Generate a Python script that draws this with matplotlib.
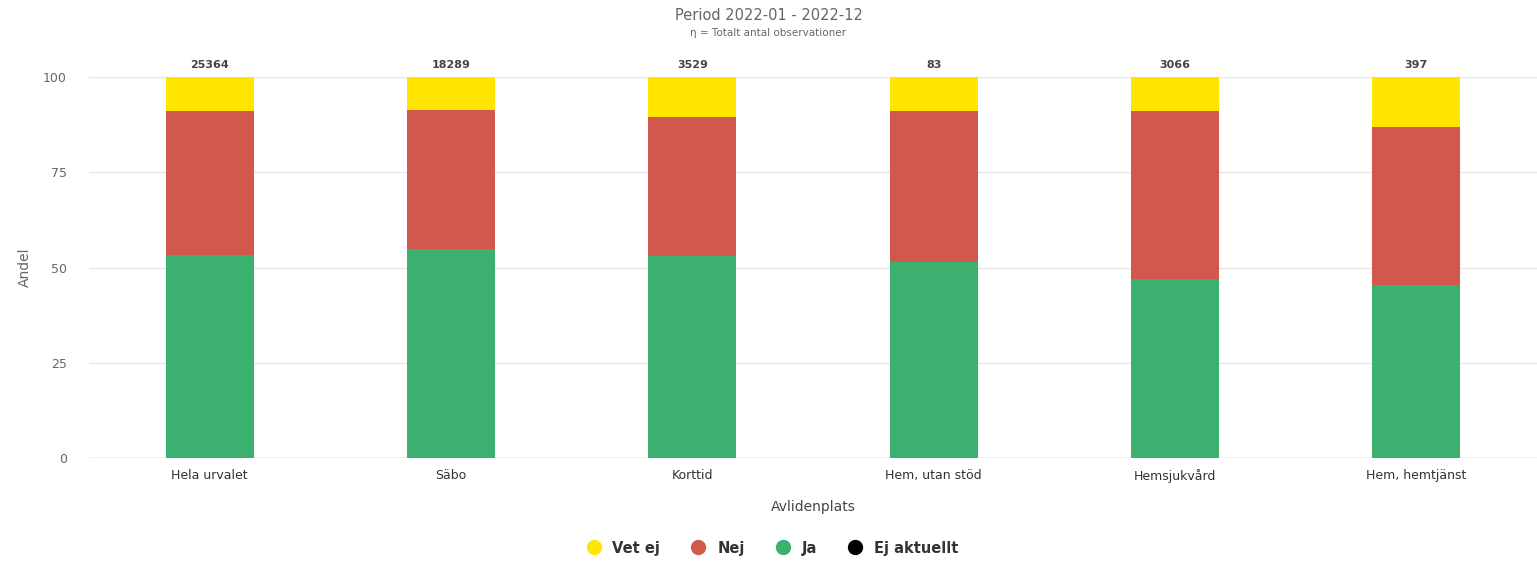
import numpy as np
import matplotlib
matplotlib.use("Agg")
import matplotlib.pyplot as plt
from matplotlib.lines import Line2D

# data (percent per place of death)
categories = ["Hela urvalet", "Säbo", "Korttid", "Hem, utan stöd", "Hemsjukvård", "Hem, hemtjänst"]
totals = [25364, 18289, 3529, 83, 3066, 397]
ja = [53.3, 54.9, 53.0, 51.4, 47.0, 45.4]
nej = [37.8, 36.4, 36.5, 39.7, 44.1, 41.6]
vet_ej = [8.9, 8.7, 10.5, 8.9, 8.9, 13.0]
ej_aktuellt = [0, 0, 0, 0, 0, 0]

c_yellow = "#ffe500"
c_red = "#d2584d"
c_green = "#3bb06f"
c_black = "#000000"
grey = "#666666"

fig = plt.figure(figsize=(15.37, 5.61), dpi=100)
ax = fig.add_axes([0.058, 0.1836, 0.942, 0.6791])

x = np.arange(len(categories))
w = 0.365
ja_a = np.array(ja)
nej_a = np.array(nej)
vet_a = np.array(vet_ej)

ax.bar(x, ja_a, w, color=c_green, zorder=3)
ax.bar(x, nej_a, w, bottom=ja_a, color=c_red, zorder=3)
ax.bar(x, vet_a, w, bottom=ja_a + nej_a, color=c_yellow, zorder=3)
ax.bar(x, ej_aktuellt, w, bottom=ja_a + nej_a + vet_a, color=c_black, zorder=3)

for xi, n in zip(x, totals):
    ax.text(xi, 101.8, str(n), ha="center", va="bottom", fontsize=8,
            color="#444444", fontweight="bold")

ax.set_xlim(-0.5, len(categories) - 0.5)
ax.set_ylim(0, 100)
ax.set_yticks([0, 25, 50, 75, 100])
ax.set_xticks(x)
ax.set_xticklabels(categories, fontsize=9, color="#333333")
ax.tick_params(axis="y", length=0, labelsize=9, labelcolor=grey, pad=16)
ax.tick_params(axis="x", length=0, pad=8)
ax.yaxis.grid(True, color="#e6e6e6", linewidth=1, zorder=0)
for s in ax.spines.values():
    s.set_visible(False)
ax.axhline(0, color="#cccccc", linewidth=1, zorder=2)

ax.set_ylabel("Andel", fontsize=10, color=grey, labelpad=8)
ax.set_xlabel("Avlidenplats", fontsize=10, color="#444444", labelpad=12)

fig.text(0.5, 0.972, "Period 2022-01 - 2022-12", ha="center", va="center",
         fontsize=10.5, color=grey)
fig.text(0.5, 0.941, "η = Totalt antal observationer", ha="center", va="center",
         fontsize=7.5, color=grey)

handles = [Line2D([], [], marker="o", linestyle="", markersize=10, color=c)
           for c in [c_yellow, c_red, c_green, c_black]]
fig.legend(handles, ["Vet ej", "Nej", "Ja", "Ej aktuellt"], loc="center",
           bbox_to_anchor=(0.5, 0.023), ncol=4, frameon=False,
           prop={"weight": "bold", "size": 10.5}, handletextpad=0.3,
           columnspacing=1.6, labelcolor="#333333")

fig.savefig("out.png", dpi=100)
